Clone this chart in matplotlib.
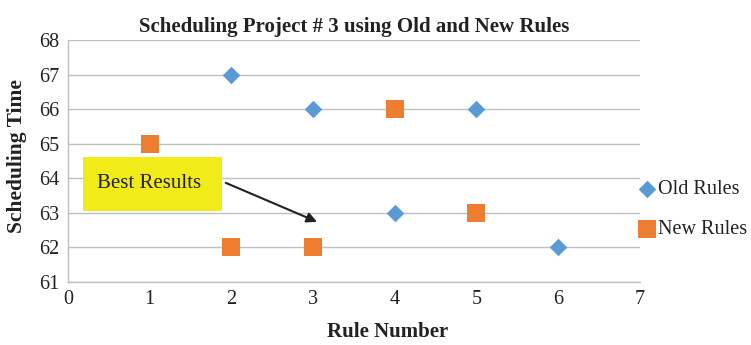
import matplotlib
matplotlib.use("Agg")
import matplotlib.pyplot as plt
from matplotlib.patches import Rectangle

old_x = [2, 3, 4, 5, 6]
old_y = [67, 66, 63, 66, 62]
new_x = [1, 2, 3, 4, 5]
new_y = [65, 62, 62, 66, 63]
title = "Scheduling Project # 3 using Old and New Rules"

plt.rcParams['font.family'] = ['Liberation Serif', 'DejaVu Serif']

fig = plt.figure(figsize=(7.51, 3.45), dpi=100)
ax = fig.add_axes([0.0905, 0.1826, 0.7615, 0.7014])

ax.scatter(old_x, old_y, marker='D', s=80, color='#5B9BD5', label='Old Rules', zorder=3, linewidths=0)
ax.scatter(new_x, new_y, marker='s', s=160, color='#ED7D31', label='New Rules', zorder=3, linewidths=0)

ax.set_xlim(0, 7)
ax.set_ylim(61, 68)
ax.set_xticks(range(0, 8))
ax.set_yticks(range(61, 69))
ax.yaxis.grid(True, color='#BFBFBF', linewidth=1)
ax.set_axisbelow(True)
for s in ['top', 'right']:
    ax.spines[s].set_visible(False)
for s in ['left', 'bottom']:
    ax.spines[s].set_color('#BFBFBF')
    ax.spines[s].set_linewidth(1)
ax.tick_params(length=0, labelsize=14.5, colors='#222222', pad=6)

ax.set_title(title, fontsize=15, fontweight='bold', pad=6, color='#222222')
ax.set_xlabel("Rule Number", fontsize=15, fontweight='bold', labelpad=11, color='#222222')
ax.xaxis.set_label_coords(0.559, -0.165)
ax.set_ylabel("Scheduling Time", fontsize=15.5, fontweight='bold', color='#222222')
ax.yaxis.set_label_coords(-0.072, 0.52)

ax.add_patch(Rectangle((0.18, 63.06), 1.70, 1.56, facecolor='#F2EB1A', edgecolor='none', zorder=4))
ax.text(0.36, 63.86, "Best Results", fontsize=15, va='center', ha='left', color='#222222', zorder=5)
ax.annotate("", xy=(3.08, 62.71), xytext=(1.90, 63.90),
            arrowprops=dict(arrowstyle='-|>', color='#222222', lw=1.5, mutation_scale=15), zorder=5)

leg = ax.legend(loc='center left', bbox_to_anchor=(0.981, 0.300), frameon=False, fontsize=14.5,
                handletextpad=0.05, handlelength=1.0, labelspacing=1.05, borderaxespad=0)
for t in leg.get_texts():
    t.set_color('#222222')

fig.savefig("out.png", dpi=100)
